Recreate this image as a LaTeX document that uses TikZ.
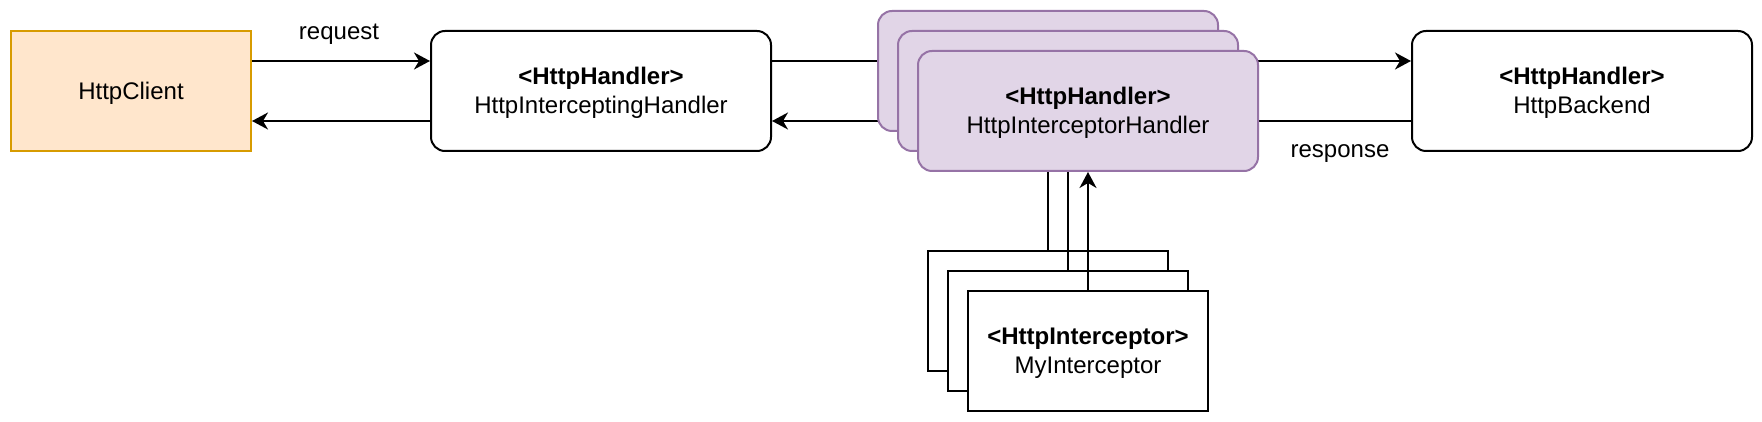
\documentclass[tikz,border=0pt]{standalone}
\usepackage{fontspec}
\setmainfont{Liberation Sans}
\usepackage{tikz}
\usetikzlibrary{positioning,arrows.meta,backgrounds}
\definecolor{clientfill}{HTML}{FFE6CC}
\definecolor{clientline}{HTML}{D79B00}
\definecolor{chainfill}{HTML}{E1D5E7}
\definecolor{chainline}{HTML}{9673A6}

\begin{document}
\begin{tikzpicture}[every node/.style={font=\fontsize{12}{14.5}\selectfont,align=center,text depth=0.5pt},
    line width=1pt,
    handler/.style={draw,fill=white,rounded corners=7pt,minimum width=170pt,minimum height=60pt},
    chain/.style={handler,draw=chainline,fill=chainfill},
    icpt/.style={draw,fill=white,minimum width=120pt,minimum height=60pt},
    link/.style={line width=1pt},
    arr/.style={link,-{Stealth[length=8pt,width=8.5pt,inset=2.5pt]}}]
  \useasboundingbox (0,0) rectangle (881pt,-211pt);
  \node[draw=clientline,fill=clientfill,minimum width=120pt,minimum height=60pt]
    (client) at (65.5pt,-45.5pt) {HttpClient};
  \node[handler,right=89pt of client] (ihandler) {\textbf{<HttpHandler>}\\HttpInterceptingHandler};
  % stacked handlers
  \node[chain,right=52.5pt of ihandler,yshift=10pt] (hback) {};
  \node[chain] (hmid) at ([xshift=10pt,yshift=-10pt]hback.center) {};
  \node[chain] (hfront) at ([xshift=10pt,yshift=-10pt]hmid.center)
    {\textbf{<HttpHandler>}\\HttpInterceptorHandler};
  \node[handler,right=86pt of hmid] (backend) {\textbf{<HttpHandler>}\\HttpBackend};
  % stacked interceptors
  \node[icpt,below=59pt of hback] (iback) {};
  \node[icpt,below=59pt of hmid] (imid) {};
  \node[icpt,below=59pt of hfront] (ifront) {\textbf{<HttpInterceptor>}\\MyInterceptor};
  \begin{scope}[on background layer]
    \draw[arr] ([yshift=15pt]client.east) -- node[yshift=14.3pt,xshift=-1pt]{request} ([yshift=15pt]ihandler.west);
    \draw[arr] ([yshift=-15pt]ihandler.west) -- ([yshift=-15pt]client.east);
    \draw[link] ([yshift=15pt]ihandler.east) -- ([yshift=15pt]hmid.west);
    \draw[arr] ([yshift=-15pt]hmid.west) -- ([yshift=-15pt]ihandler.east);
    \draw[arr] ([yshift=15pt]hmid.east) -- ([yshift=15pt]backend.west);
    \draw[link] ([yshift=-15pt]backend.west) -- node[yshift=-15.3pt,xshift=7.5pt]{response} ([yshift=-15pt]hmid.east);
  \end{scope}
  \draw (iback.north) -- (iback.north |- hfront.south);
  \draw (imid.north) -- (imid.north |- hfront.south);
  \draw[arr] (ifront.north) -- (ifront.north |- hfront.south);
\end{tikzpicture}
\end{document}
